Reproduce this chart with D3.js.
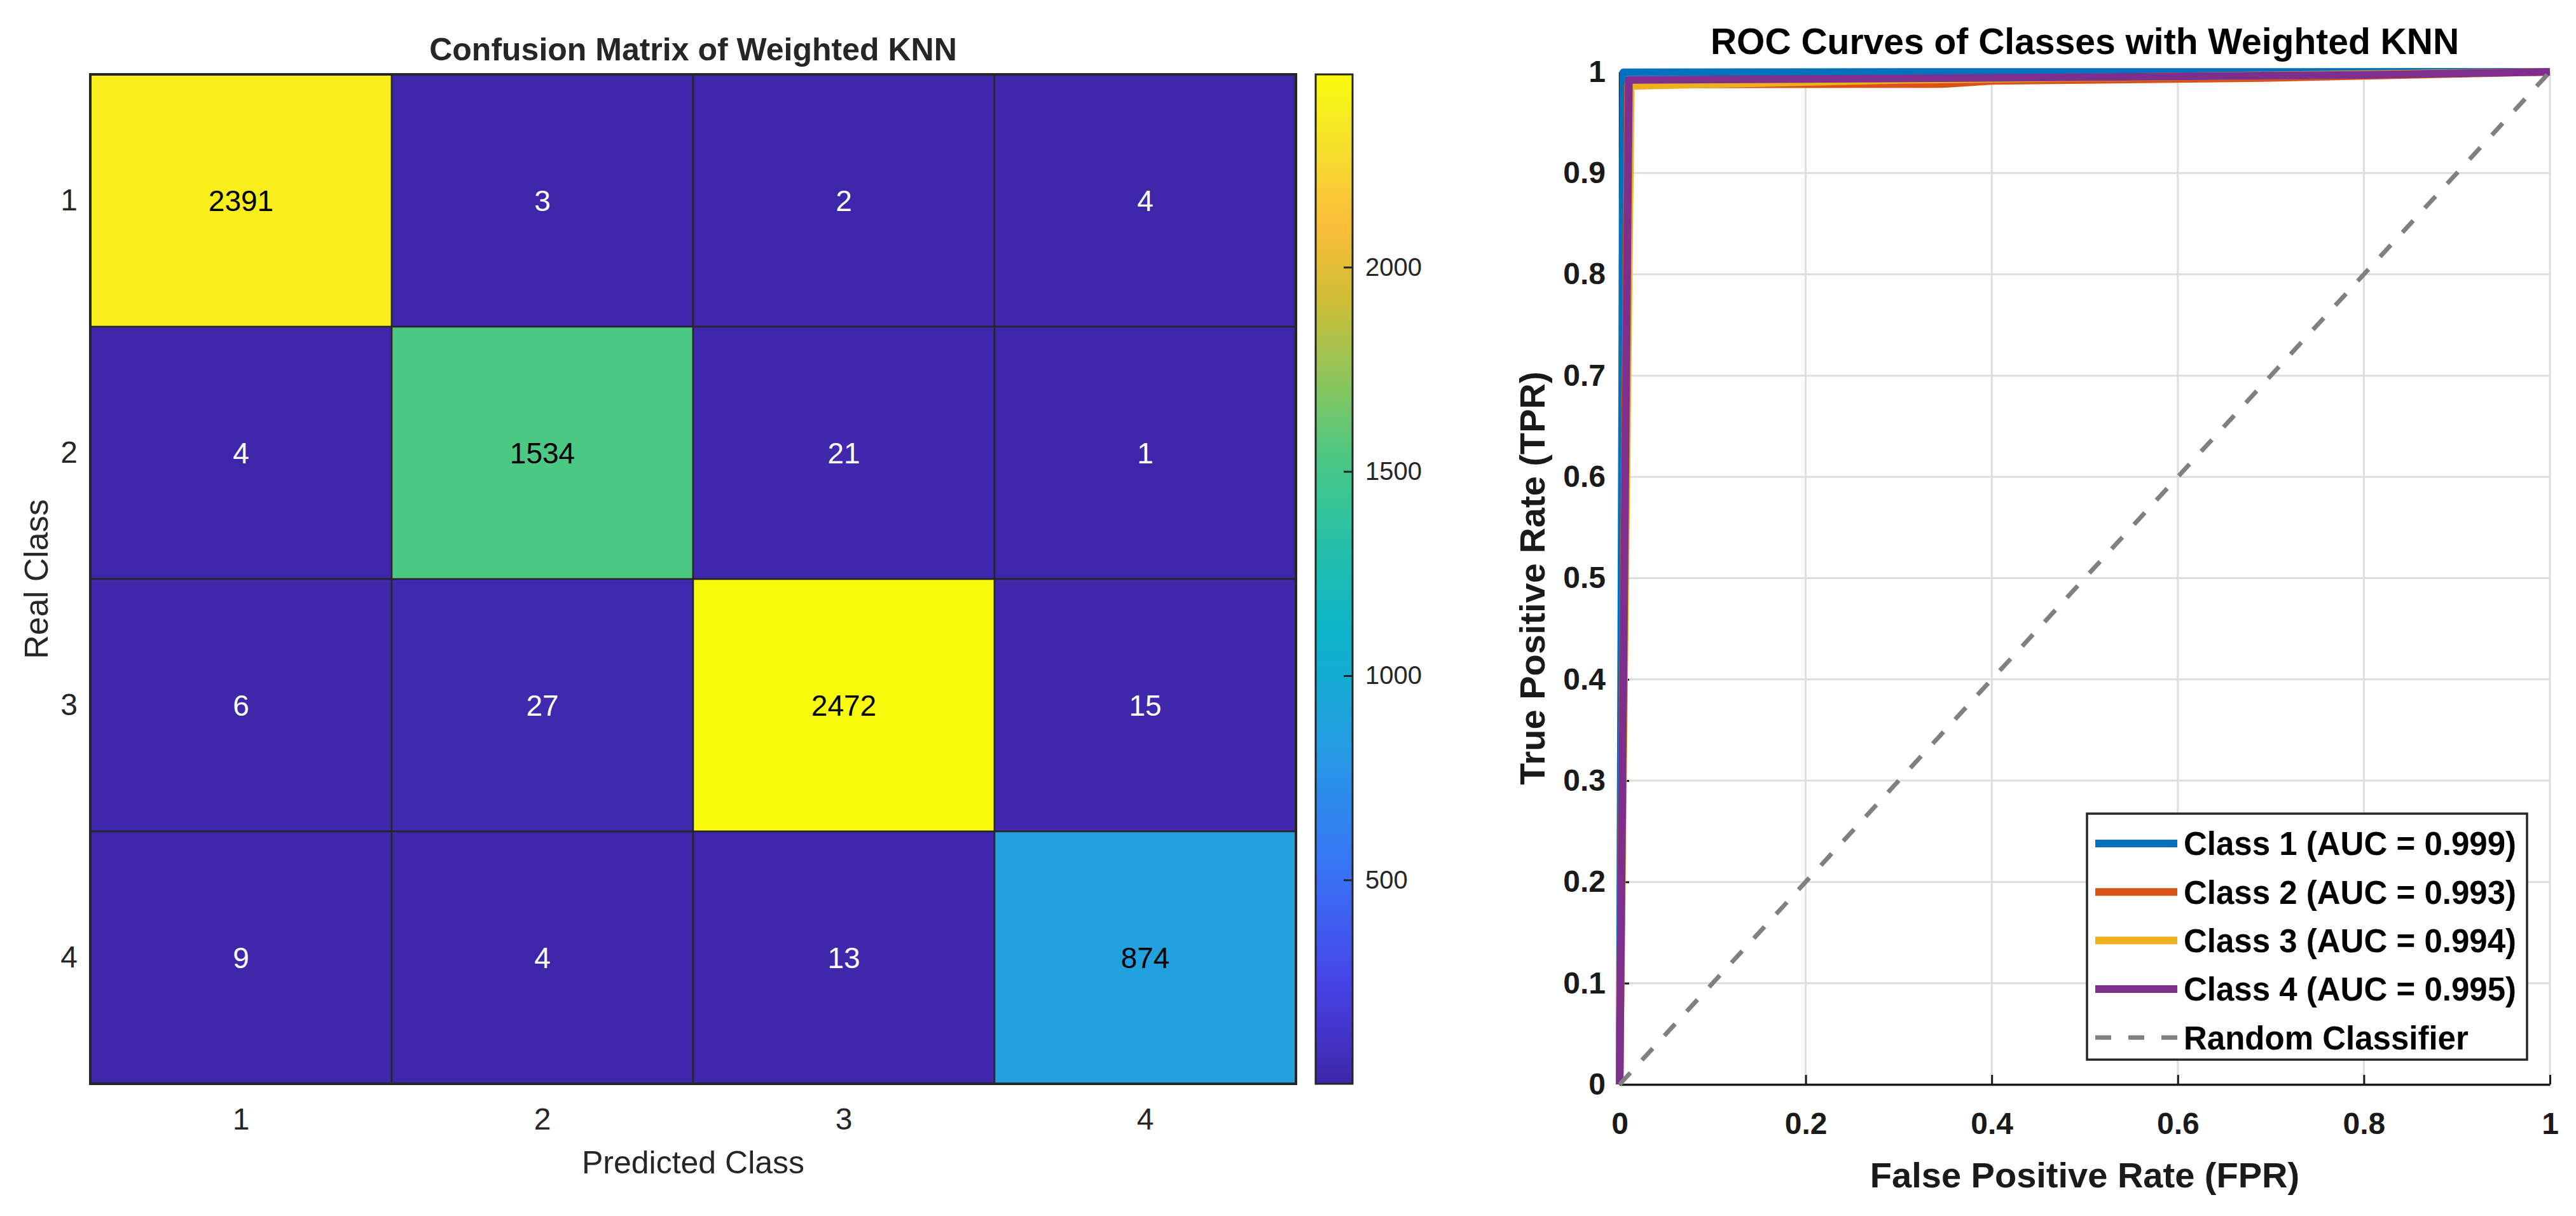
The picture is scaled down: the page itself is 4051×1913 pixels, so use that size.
<!DOCTYPE html>
<html>
<head>
<meta charset="utf-8">
<script src="https://cdn.jsdelivr.net/npm/d3@7"></script>
<style>
  html, body { margin: 0; padding: 0; background: #fff; }
  text { font-family: "Liberation Sans", Arial, Helvetica, sans-serif; }
</style>
</head>
<body>
<svg id="chart" width="4051" height="1913"></svg>
<script>
// ---- confusion matrix data ----
const classes = ["1", "2", "3", "4"];
const confusion = [
    [2391, 3, 2, 4],
    [4, 1534, 21, 1],
    [6, 27, 2472, 15],
    [9, 4, 13, 874]
];
const colorbarTicks = [500, 1000, 1500, 2000];

// parula-like colour stops (fraction of range -> colour)
const parulaStops = [0, 0.1, 0.2, 0.3, 0.35, 0.45, 0.55, 0.62, 0.7, 0.78, 0.85, 0.93, 1];
const parulaColors = ["#3e26a8", "#4743e8", "#3a6ff6", "#2a90ea", "#22a1e0", "#0bb5c8", "#2bc2a2",
    "#4bc884", "#8fc55a", "#d1bd34", "#fcbd3b", "#f5e02b", "#f9fb0e"];

// ---- ROC data ----
const rocNames = ["Class 1 (AUC = 0.999)", "Class 2 (AUC = 0.993)", "Class 3 (AUC = 0.994)", "Class 4 (AUC = 0.995)"];
const rocColors = ["#0072bd", "#d95319", "#edb120", "#7e2f8e"];
const rocFpr = [
    [0, 0.004, 0.3, 1],
    [0, 0.009, 0.35, 0.4, 0.7, 1],
    [0, 0.012, 0.3, 1],
    [0, 0.01, 0.4, 0.8, 1]
];
const rocTpr = [
    [0, 0.9995, 0.9998, 1],
    [0, 0.9875, 0.988, 0.991, 0.994, 1],
    [0, 0.986, 0.992, 1],
    [0, 0.992, 0.994, 0.997, 1]
];
const fprTicks = [0, 0.2, 0.4, 0.6, 0.8, 1];
const tprTicks = [0, 0.1, 0.2, 0.3, 0.4, 0.5, 0.6, 0.7, 0.8, 0.9, 1];

const svg = d3.select("#chart");

// ================= confusion matrix =================
const flat = confusion.flatMap((row, i) => row.map((v, j) => ({ r: classes[i], c: classes[j], v: v })));
const vmin = d3.min(flat, d => d.v);
const vmax = d3.max(flat, d => d.v);

const parula = d3.scaleLinear()
    .domain(parulaStops.map(t => vmin + t * (vmax - vmin)))
    .range(parulaColors)
    .interpolate(d3.interpolateRgb)
    .clamp(true);

const hx = d3.scaleBand().domain(classes).range([142, 2038]);
const hy = d3.scaleBand().domain(classes).range([117, 1705]);

const hm = svg.append("g");

hm.selectAll("rect.cell")
    .data(flat)
    .join("rect")
    .attr("class", "cell")
    .attr("x", d => hx(d.c))
    .attr("y", d => hy(d.r))
    .attr("width", hx.bandwidth())
    .attr("height", hy.bandwidth())
    .attr("fill", d => parula(d.v))
    .attr("stroke", "#262626")
    .attr("stroke-width", 2.5);

hm.selectAll("text.val")
    .data(flat)
    .join("text")
    .attr("class", "val")
    .attr("x", d => hx(d.c) + hx.bandwidth() / 2)
    .attr("y", d => hy(d.r) + hy.bandwidth() / 2)
    .attr("dy", "0.36em")
    .attr("text-anchor", "middle")
    .attr("font-size", 46)
    .attr("fill", d => (d.v - vmin) / (vmax - vmin) > 0.3 ? "#000" : "#fff")
    .text(d => d.v);

hm.append("rect")
    .attr("x", 142).attr("y", 117)
    .attr("width", 2038 - 142).attr("height", 1705 - 117)
    .attr("fill", "none")
    .attr("stroke", "#262626")
    .attr("stroke-width", 4);

const hxAxis = hm.append("g")
    .attr("transform", "translate(0,1705)")
    .call(d3.axisBottom(hx).tickSize(0).tickPadding(38));
const hyAxis = hm.append("g")
    .attr("transform", "translate(142,0)")
    .call(d3.axisLeft(hy).tickSize(0).tickPadding(20));
[hxAxis, hyAxis].forEach(a => {
    a.select(".domain").remove();
    a.selectAll("text").attr("font-size", 48).attr("fill", "#262626")
        .style("font-family", "'Liberation Sans', Arial, sans-serif");
});

hm.append("text")
    .attr("x", (142 + 2038) / 2).attr("y", 95)
    .attr("text-anchor", "middle")
    .attr("font-size", 50).attr("font-weight", "bold").attr("fill", "#262626")
    .text("Confusion Matrix of Weighted KNN");

hm.append("text")
    .attr("x", (142 + 2038) / 2).attr("y", 1846)
    .attr("text-anchor", "middle")
    .attr("font-size", 50).attr("fill", "#262626")
    .text("Predicted Class");

hm.append("text")
    .attr("transform", `translate(75,${(117 + 1705) / 2}) rotate(-90)`)
    .attr("text-anchor", "middle")
    .attr("font-size", 52).attr("fill", "#262626")
    .text("Real Class");

// colour bar
const cbScale = d3.scaleLinear().domain([vmin, vmax]).range([1705, 117]);
const defs = svg.append("defs");
const grad = defs.append("linearGradient")
    .attr("id", "parulaGrad")
    .attr("x1", 0).attr("y1", 1).attr("x2", 0).attr("y2", 0);
grad.selectAll("stop")
    .data(d3.range(0, 1.0001, 0.02))
    .join("stop")
    .attr("offset", t => t)
    .attr("stop-color", t => parula(vmin + t * (vmax - vmin)));

hm.append("rect")
    .attr("x", 2069).attr("y", 117)
    .attr("width", 58).attr("height", 1705 - 117)
    .attr("fill", "url(#parulaGrad)")
    .attr("stroke", "#262626")
    .attr("stroke-width", 3);

const cbAxis = hm.append("g")
    .attr("transform", "translate(2127,0)")
    .call(d3.axisRight(cbScale).tickValues(colorbarTicks).tickFormat(d3.format("d"))
        .tickSizeInner(-14).tickSizeOuter(0).tickPadding(20));
cbAxis.select(".domain").remove();
cbAxis.selectAll("line").attr("stroke", "#262626").attr("stroke-width", 3);
cbAxis.selectAll("text").attr("font-size", 40).attr("fill", "#262626")
    .style("font-family", "'Liberation Sans', Arial, sans-serif");

// ================= ROC curves =================
const rx = d3.scaleLinear().domain([0, 1]).range([2547, 4010]);
const ry = d3.scaleLinear().domain([0, 1]).range([1706, 113]);

const roc = svg.append("g");

// grid
roc.append("g").selectAll("line")
    .data(fprTicks.slice(1))
    .join("line")
    .attr("x1", d => rx(d)).attr("x2", d => rx(d))
    .attr("y1", ry(0)).attr("y2", ry(1))
    .attr("stroke", "#dedede").attr("stroke-width", 3);
roc.append("g").selectAll("line")
    .data(tprTicks.slice(1))
    .join("line")
    .attr("x1", rx(0)).attr("x2", rx(1))
    .attr("y1", d => ry(d)).attr("y2", d => ry(d))
    .attr("stroke", "#dedede").attr("stroke-width", 3);

const fmt = d => String(+d.toFixed(1));

const rxAxis = roc.append("g")
    .attr("transform", `translate(0,${ry(0)})`)
    .call(d3.axisBottom(rx).tickValues(fprTicks).tickFormat(fmt).tickSizeInner(-15).tickSizeOuter(0).tickPadding(44));
const ryAxis = roc.append("g")
    .attr("transform", `translate(${rx(0)},0)`)
    .call(d3.axisLeft(ry).tickValues(tprTicks).tickFormat(fmt).tickSizeInner(-15).tickSizeOuter(0).tickPadding(22));
[rxAxis, ryAxis].forEach(a => {
    a.select(".domain").attr("stroke", "#1a1a1a").attr("stroke-width", 3.5);
    a.selectAll(".tick line").attr("stroke", "#1a1a1a").attr("stroke-width", 3);
    a.selectAll("text").attr("font-size", 48).attr("font-weight", "bold").attr("fill", "#1a1a1a")
        .style("font-family", "'Liberation Sans', Arial, sans-serif");
});

const line = d3.line().x(d => rx(d[0])).y(d => ry(d[1]));

roc.selectAll("path.curve")
    .data(rocFpr.map((f, i) => f.map((x, k) => [x, rocTpr[i][k]])))
    .join("path")
    .attr("class", "curve")
    .attr("d", line)
    .attr("fill", "none")
    .attr("stroke", (d, i) => rocColors[i])
    .attr("stroke-width", 12)
    .attr("stroke-linejoin", "round");

roc.append("path")
    .attr("d", line([[0, 0], [1, 1]]))
    .attr("fill", "none")
    .attr("stroke", "#808080")
    .attr("stroke-width", 7)
    .attr("stroke-dasharray", "25,27");

roc.append("text")
    .attr("x", (rx(0) + rx(1)) / 2).attr("y", 85)
    .attr("text-anchor", "middle")
    .attr("font-size", 57).attr("font-weight", "bold").attr("fill", "#000")
    .text("ROC Curves of Classes with Weighted KNN");

roc.append("text")
    .attr("x", (rx(0) + rx(1)) / 2).attr("y", 1868)
    .attr("text-anchor", "middle")
    .attr("font-size", 56).attr("font-weight", "bold").attr("fill", "#1a1a1a")
    .text("False Positive Rate (FPR)");

roc.append("text")
    .attr("transform", `translate(2429,${(ry(0) + ry(1)) / 2}) rotate(-90)`)
    .attr("text-anchor", "middle")
    .attr("font-size", 56).attr("font-weight", "bold").attr("fill", "#1a1a1a")
    .text("True Positive Rate (TPR)");

// legend
const legendItems = rocNames.map((n, i) => ({ name: n, color: rocColors[i], dash: null }))
    .concat([{ name: "Random Classifier", color: "#808080", dash: "25,27" }]);
const lg = roc.append("g");
lg.append("rect")
    .attr("x", 3282).attr("y", 1280)
    .attr("width", 3974 - 3282).attr("height", 1667 - 1280)
    .attr("fill", "#fff")
    .attr("stroke", "#262626")
    .attr("stroke-width", 3.5);
const rows = lg.selectAll("g.item")
    .data(legendItems)
    .join("g")
    .attr("class", "item")
    .attr("transform", (d, i) => `translate(0,${1327 + i * 76.3})`);
rows.append("line")
    .attr("x1", 3295).attr("x2", 3424)
    .attr("stroke", d => d.color)
    .attr("stroke-width", d => d.dash ? 7 : 12)
    .attr("stroke-dasharray", d => d.dash);
rows.append("text")
    .attr("x", 3434)
    .attr("dy", "0.36em")
    .attr("font-size", 51).attr("font-weight", "bold").attr("fill", "#000")
    .text(d => d.name);
</script>
</body>
</html>
